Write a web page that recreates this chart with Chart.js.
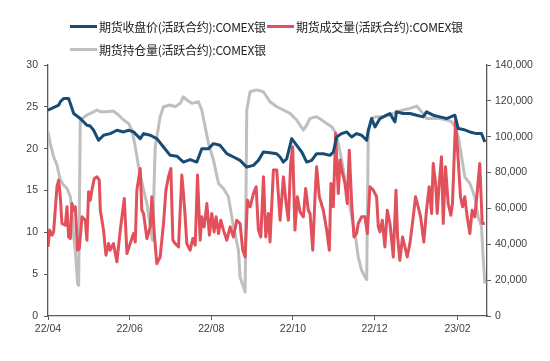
<!DOCTYPE html>
<html>
<head>
<meta charset="utf-8">
<script src="https://cdn.jsdelivr.net/npm/chart.js@4.4.1/dist/chart.umd.min.js"></script>
<style>
    body { margin: 0; background: #fff; }
    #wrap { position: relative; width: 550px; height: 361px; }
    .legend-item { position: absolute; display: flex; align-items: center; font-family: "Noto Sans CJK SC", sans-serif; font-size: 12px; letter-spacing: -0.25px; color: #222; white-space: nowrap; }
    .legend-line { width: 27px; height: 3px; margin-right: 2px; }
</style>
</head>
<body>
<div id="wrap">
    <canvas id="chart" width="550" height="361"></canvas>
    <div id="legend"></div>
</div>
<script>
// 系列名称
const seriesNames = ['期货收盘价(活跃合约):COMEX银', '期货成交量(活跃合约):COMEX银', '期货持仓量(活跃合约):COMEX银'];

// x 轴刻度 (自 2022-04-01 起的天数)
const tickDays = [0, 61, 122, 183, 244, 306];
const tickLabels = ['22/04', '22/06', '22/08', '22/10', '22/12', '23/02'];

// 收盘价 (左轴)
const priceDays = [0, 8, 9.2, 11.7, 15.4, 16.7, 19.2, 24.1, 29.1, 31.6, 34.1, 37.8, 41.5, 46.5, 51.5, 56.5, 60.2, 63.9, 68.9, 71.4,
    76.4, 81.3, 86.3, 91.3, 96.3, 101.2, 106.2, 111.2, 114.9, 119.9, 123.6, 128.6, 133.6, 138.6, 143.5, 148.5, 153.5, 157.2, 160.9, 165.9,
    170.9, 173.4, 175.9, 178.4, 182.1, 185.8, 189.6, 193.3, 197.0, 200.7, 205.7, 210.7, 213.2, 215.7, 219.4, 223.1, 226.9, 230.6, 234.3, 238.1,
    239.3, 241.8, 244.3, 248.0, 253.0, 255.5, 259.2, 260.4, 265.4, 270.4, 275.4, 280.3, 282.8, 287.8, 292.8, 297.8, 304.0, 306.5, 310.2, 315.2,
    320.1, 323.9, 326.4];
const priceVals = [24.6, 25.2, 25.6, 26.0, 26.0, 25.4, 24.2, 23.6, 22.8, 22.7, 22.2, 21.0, 21.6, 21.8, 22.2, 22.0, 22.2, 22.0, 21.2, 21.8,
    21.6, 21.2, 20.2, 19.2, 19.1, 18.4, 18.7, 18.4, 20.0, 20.0, 20.6, 20.4, 19.4, 19.0, 18.6, 17.8, 18.0, 18.6, 19.6, 19.5,
    19.4, 19.0, 18.4, 18.8, 21.2, 20.4, 19.6, 18.4, 18.6, 19.4, 19.4, 19.2, 19.6, 21.4, 21.8, 22.0, 21.4, 21.8, 21.6, 21.0,
    22.2, 23.6, 22.6, 23.6, 24.0, 24.2, 23.2, 24.4, 24.2, 24.2, 24.0, 23.8, 24.4, 24.0, 23.8, 23.6, 24.0, 22.4, 22.3, 22.0,
    21.8, 21.8, 20.8];

// 成交量 (右轴)
const volumeDays = [0, 1.2, 3.0, 4.2, 6.7, 8.0, 9.2, 10.4, 12.9, 14.2, 15.4, 16.7, 17.9, 19.2, 20.4, 22.1, 23.4, 25.4, 27.9, 29.1,
    30.3, 31.6, 32.8, 34.6, 36.6, 38.3, 39.1, 41.5, 43.3, 45.3, 46.5, 48.9, 51.5, 54.0, 57.0, 59.0, 61.4, 63.9, 65.2, 66.4,
    68.9, 70.1, 71.4, 73.9, 76.4, 77.6, 79.6, 81.3, 83.8, 86.3, 88.1, 90.0, 91.8, 93.3, 95.0, 97.5, 100.0, 101.2, 102.5, 103.7,
    106.2, 108.2, 110.0, 111.7, 113.7, 114.9, 116.7, 118.7, 120.6, 122.4, 124.1, 125.6, 127.4, 129.1, 131.1, 133.6, 136.1, 138.6, 141.0, 143.5,
    145.5, 147.3, 149.0, 151.0, 153.5, 155.5, 157.2, 159.0, 161.0, 162.7, 164.7, 165.9, 168.4, 170.9, 173.4, 175.9, 177.9, 179.6, 181.3, 182.8,
    184.5, 186.3, 188.3, 190.8, 192.5, 194.5, 195.8, 197.8, 199.5, 200.7, 202.7, 205.7, 208.2, 210.2, 211.4, 213.2, 214.9, 215.7, 216.9, 218.2,
    220.1, 221.9, 223.6, 225.1, 226.9, 228.6, 230.6, 231.8, 234.3, 236.8, 238.6, 240.5, 243.0, 245.5, 246.8, 248.0, 249.8, 251.7, 253.5, 255.5,
    258.0, 260.0, 261.2, 262.9, 264.9, 266.7, 268.4, 270.4, 272.9, 274.6, 276.6, 278.4, 280.8, 282.8, 284.8, 286.6, 287.8, 289.6, 290.8, 292.3,
    294.0, 295.3, 297.0, 299.0, 301.0, 302.2, 304.5, 306.5, 308.2, 309.7, 311.4, 313.2, 315.2, 316.9, 318.9, 320.6, 322.6, 324.4, 326.4];
const volumeVals = [38500, 47900, 45100, 46900, 72100, 75800, 66500, 51600, 50600, 60900, 44100, 43200, 62700, 59000, 60900, 36700, 37600, 55300, 53400, 42300,
    69300, 64600, 70200, 76700, 77600, 75800, 59000, 47900, 33900, 40400, 36700, 40400, 30200, 47900, 65500, 34800, 40400, 46000, 41300, 70200,
    82300, 59000, 57200, 43200, 49700, 66500, 44100, 29200, 32900, 51600, 70200, 77600, 82300, 42300, 40400, 38500, 78600, 68300, 55300, 40400,
    36700, 43200, 39500, 78600, 42300, 55300, 49700, 62700, 45100, 57200, 46900, 55300, 46000, 53400, 47900, 42300, 49700, 44100, 53400, 51600,
    36700, 32900, 64600, 60900, 68300, 72100, 47900, 44100, 77600, 44100, 57200, 41300, 81400, 81400, 53400, 77600, 62700, 53400, 85100, 94400,
    47900, 66500, 58100, 55300, 71100, 59000, 57200, 36700, 66500, 83200, 66500, 59000, 47900, 36700, 73900, 60900, 101900, 87000, 68300, 87000,
    79500, 73900, 62700, 92500, 62700, 44100, 46000, 51600, 55300, 55300, 46000, 72100, 70200, 66500, 49700, 46900, 53400, 38500, 59000, 51600,
    32900, 70200, 44100, 31100, 44100, 38500, 32900, 40400, 55300, 66500, 60900, 55300, 41300, 59000, 72100, 57200, 85100, 73900, 57200, 73900,
    88800, 51600, 83200, 62700, 56200, 62700, 109300, 87000, 66500, 60900, 66500, 55300, 46000, 59000, 55300, 68300, 85100, 51600, 51600];

// 持仓量 (右轴)
const oiDays = [0, 1.7, 4.2, 6.7, 9.2, 11.7, 14.2, 16.7, 17.9, 19.2, 20.4, 22.1, 22.9, 24.1, 29.1, 34.1, 36.6, 39.1, 44.0, 49.0,
    52.7, 56.5, 60.2, 62.7, 65.2, 67.7, 71.4, 73.9, 76.4, 78.1, 80.1, 83.8, 86.3, 91.3, 95.0, 98.8, 101.2, 103.7, 107.5, 112.4,
    114.9, 117.4, 119.9, 123.6, 127.4, 131.1, 134.8, 138.6, 142.3, 143.5, 147.3, 148.5, 151.0, 156.0, 160.9, 163.4, 165.9, 170.9, 175.9, 180.8,
    185.8, 190.8, 193.3, 195.8, 200.7, 204.5, 208.2, 211.9, 214.4, 216.9, 219.4, 221.9, 224.4, 226.9, 229.4, 231.8, 234.3, 236.8, 238.1, 239.3,
    241.8, 245.5, 250.5, 255.5, 260.4, 265.4, 270.4, 275.4, 279.1, 282.8, 287.8, 292.8, 297.8, 301.5, 304.0, 306.5, 309.0, 311.4, 315.2, 318.9,
    321.4, 323.9, 325.1, 326.4];
const oiVals = [102800, 96300, 88800, 84200, 75800, 73000, 71100, 66500, 59000, 44100, 36700, 18000, 17100, 109300, 112100, 113900, 114900, 113900, 113900, 114300,
    112100, 109300, 107400, 103700, 94400, 83200, 70200, 62700, 49700, 42300, 94400, 111200, 116700, 117700, 116700, 118600, 122300, 120500, 118600, 119500,
    114900, 105600, 96300, 87000, 73900, 71100, 66500, 49700, 36700, 21800, 13400, 114900, 125100, 126100, 125100, 122300, 119500, 116700, 114900, 113000,
    109300, 103700, 106500, 110200, 111200, 109300, 107400, 105600, 102800, 96300, 87000, 75800, 66500, 55300, 46000, 32900, 25500, 21800, 20300, 101900,
    110200, 111200, 111200, 112100, 113900, 114900, 115800, 117100, 113900, 110200, 110200, 110200, 109300, 108400, 105600, 100000, 88800, 77600, 73900, 66500,
    55300, 49700, 32900, 18100];

const COLORS = ['#184c74', '#e2505c', '#bfbfbf'];
const tickFont = { family: '"Liberation Sans", sans-serif', size: 10.5 };
const axisColor = '#595959';

function toPoints(days, vals) {
    return days.map((d, i) => ({ x: d, y: vals[i] }));
}

// 图例 (HTML)
const legendPos = [[70, 18], [267, 18], [70, 41]];
const legendDiv = document.getElementById('legend');
seriesNames.forEach((name, i) => {
    const item = document.createElement('div');
    item.className = 'legend-item';
    item.style.left = legendPos[i][0] + 'px';
    item.style.top = legendPos[i][1] + 'px';
    item.innerHTML = `<span class="legend-line" style="background:${COLORS[i]}"></span><span>${name}</span>`;
    legendDiv.appendChild(item);
});

const lineStyle = { pointRadius: 0, borderWidth: 3, tension: 0, fill: false, borderJoinStyle: 'round' };

new Chart(document.getElementById('chart').getContext('2d'), {
    type: 'line',
    data: {
        datasets: [
            { ...lineStyle, label: seriesNames[0], data: toPoints(priceDays, priceVals), borderColor: COLORS[0], yAxisID: 'y', order: 0 },
            { ...lineStyle, label: seriesNames[1], data: toPoints(volumeDays, volumeVals), borderColor: COLORS[1], yAxisID: 'y2', order: 1 },
            { ...lineStyle, label: seriesNames[2], data: toPoints(oiDays, oiVals), borderColor: COLORS[2], yAxisID: 'y2', order: 2 }
        ]
    },
    options: {
        responsive: false,
        animation: false,
        layout: { padding: { top: 65, left: 0, right: 0, bottom: 0 } },
        plugins: { legend: { display: false }, tooltip: { enabled: false } },
        scales: {
            x: {
                type: 'linear',
                min: 0,
                max: 328,
                afterBuildTicks: scale => { scale.ticks = tickDays.map(v => ({ value: v })); },
                afterFit: scale => { scale.height = 45; },
                ticks: {
                    autoSkip: false,
                    maxRotation: 0,
                    padding: 3,
                    color: '#404040',
                    font: tickFont,
                    callback: value => tickLabels[tickDays.indexOf(value)]
                },
                grid: { drawOnChartArea: false, tickLength: 4, color: axisColor },
                border: { color: axisColor, width: 1.3 }
            },
            y: {
                position: 'left',
                min: 0,
                max: 30,
                afterFit: scale => { scale.width = 48; },
                ticks: { stepSize: 5, padding: 6, color: '#404040', font: tickFont },
                grid: { drawOnChartArea: false, tickLength: 4, color: axisColor },
                border: { color: axisColor, width: 1.3 }
            },
            y2: {
                position: 'right',
                min: 0,
                max: 140000,
                afterFit: scale => { scale.width = 63; },
                ticks: {
                    stepSize: 20000,
                    padding: 4,
                    color: '#404040',
                    font: tickFont,
                    callback: value => value.toLocaleString('en-US')
                },
                grid: { drawOnChartArea: false, tickLength: 4, color: axisColor },
                border: { color: axisColor, width: 1.3 }
            }
        }
    }
});
</script>
</body>
</html>
